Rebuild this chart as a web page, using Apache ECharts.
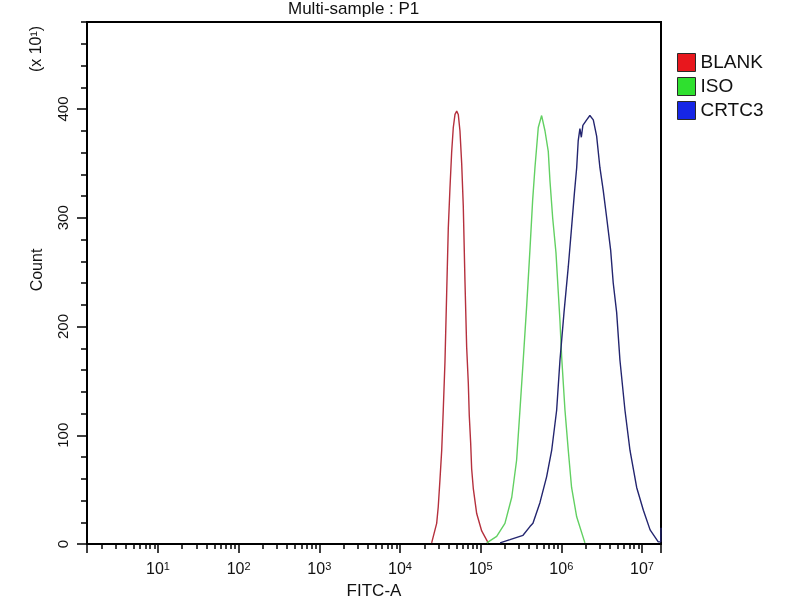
<!DOCTYPE html>
<html>
<head>
<meta charset="utf-8">
<script src="https://cdn.jsdelivr.net/npm/echarts@6.0.0/dist/echarts.min.js"></script>
<style>
html,body{margin:0;padding:0;background:#ffffff;}
#chart{width:800px;height:600px;}
</style>
</head>
<body>
<div id="chart"></div>
<script>
// ---------------- data ----------------
const seriesNames = ['BLANK', 'ISO', 'CRTC3'];

// FITC-A intensity (linear units) and count (x 10^1)
const blankFitc = [24700, 28500, 29800, 31300, 32900, 34400, 36100, 37900, 39700, 41700, 43700, 45800, 48100, 50500, 52800, 55400, 58200, 60900, 63900, 67100, 70300, 72300, 75200, 77400, 81100, 89300, 103000, 124000];
const blankCount = [1, 19, 34, 59, 86, 123, 167, 230, 290, 328, 360, 383, 395, 398, 395, 380, 350, 311, 242, 181, 148, 118, 93, 69, 51, 28, 12, 1];

const isoFitc = [119000, 158000, 200000, 243000, 279000, 307000, 337000, 372000, 408000, 441000, 471000, 518000, 570000, 627000, 689000, 723000, 781000, 858000, 916000, 962000, 1010000, 1110000, 1220000, 1340000, 1550000, 1960000];
const isoCount = [1, 7, 19, 43, 77, 123, 169, 219, 270, 316, 346, 383, 394, 380, 361, 334, 300, 268, 232, 205, 172, 123, 86, 52, 25, 1];

const crtc3Fitc = [174000, 231000, 335000, 408000, 445000, 543000, 658000, 759000, 875000, 962000, 1080000, 1220000, 1340000, 1450000, 1550000, 1620000, 1700000, 1770000, 1850000, 2060000, 2260000, 2490000, 2740000, 3010000, 3310000, 3650000, 4090000, 4400000, 4850000, 5330000, 6150000, 7100000, 8590000, 10400000, 12600000, 15900000, 17100000, 17200000];
const crtc3Count = [1, 4, 8, 16, 19, 38, 62, 86, 123, 169, 213, 255, 291, 322, 346, 371, 382, 374, 385, 390, 394, 390, 375, 346, 325, 300, 270, 240, 213, 169, 123, 86, 52, 31, 13, 2, 2, 15];

// axis ranges and tick labels
const xMinFitc = 1.32;
const xMaxFitc = 17200000;
const xTickExponents = [1, 2, 3, 4, 5, 6, 7];
const yMin = 0;
const yMax = 480;
const yTickLabels = [0, 100, 200, 300, 400];
const yMinorStep = 20;

// ---------------- styles ----------------
const lineColors = ['#b5303d', '#62d062', '#23256f'];
const legendColors = ['#e8171d', '#2fe02f', '#1626e6'];

function hasFont(name) {
  const c = document.createElement('canvas').getContext('2d');
  const t = 'mmmmmmmmmmlli1023456789WAK';
  c.font = '40px monospace';
  const a = c.measureText(t).width;
  c.font = '40px "' + name + '", monospace';
  const b = c.measureText(t).width;
  return Math.abs(a - b) > 0.5;
}
const narrow = hasFont('Liberation Sans Narrow');
const FAM = narrow ? '"Liberation Sans Narrow", "Liberation Sans", Arial, sans-serif' : '"Liberation Sans", Arial, sans-serif';
const fs = n => narrow ? n : Math.round(n * 0.85);
const TXT = '#111111';

// ---------------- derived (axis transform) ----------------
const log10 = Math.log10;
const xMinL = log10(xMinFitc);
const xMaxL = log10(xMaxFitc);
const majorX = [xMinL].concat(xTickExponents, [xMaxL]);
const minorX = [];
for (let n = 0; n <= 8; n++) {
  for (let k = 2; k <= 9; k++) {
    const v = n + log10(k);
    if (v > xMinL && v < xMaxL) minorX.push(v);
  }
}
const minorY = [];
for (let v = yMin; v <= yMax; v += yMinorStep) minorY.push(v);

function toPairs(fitc, count) {
  return fitc.map((v, i) => [log10(v), count[i]]);
}
const seriesData = [
  toPairs(blankFitc, blankCount),
  toPairs(isoFitc, isoCount),
  toPairs(crtc3Fitc, crtc3Count)
];

const GRID = { left: 87, top: 22, width: 574, height: 522 };

const chart = echarts.init(document.getElementById('chart'), null, { renderer: 'canvas' });

const option = {
  backgroundColor: '#ffffff',
  animation: false,
  textStyle: { fontFamily: FAM, color: TXT },
  grid: {
    left: GRID.left, top: GRID.top, width: GRID.width, height: GRID.height,
    show: true, borderColor: '#000', borderWidth: 2, backgroundColor: 'transparent',
    containLabel: false, outerBoundsMode: 'none'
  },
  legend: {
    orient: 'vertical',
    left: 672, top: 48,
    icon: 'rect',
    itemWidth: 18, itemHeight: 18, itemGap: 5,
    selectedMode: false,
    textStyle: { fontFamily: FAM, fontSize: fs(22), color: TXT },
    data: seriesNames.map((n, i) => ({
      name: n,
      itemStyle: { color: legendColors[i], borderColor: '#2a2a2a', borderWidth: 1 }
    }))
  },
  xAxis: [
    {
      type: 'value', min: xMinL, max: xMaxL, position: 'bottom',
      axisLine: { show: true, onZero: false, lineStyle: { color: '#000', width: 2 } },
      axisTick: { show: true, customValues: majorX, length: 9, lineStyle: { color: '#000', width: 1.5 } },
      axisLabel: {
        show: true, customValues: xTickExponents, margin: 17,
        formatter: v => '{b|10}{s|' + Math.round(v) + '}',
        rich: {
          b: { fontFamily: FAM, fontSize: fs(19), color: TXT, lineHeight: 18 },
          s: { fontFamily: FAM, fontSize: fs(13), color: TXT, lineHeight: 10, verticalAlign: 'top' }
        }
      },
      splitLine: { show: false },
      name: 'FITC-A', nameLocation: 'middle', nameGap: 37,
      nameTextStyle: { fontFamily: FAM, fontSize: fs(20), color: TXT }
    },
    {
      type: 'value', min: xMinL, max: xMaxL, position: 'top', offset: -GRID.height,
      axisLine: { show: false },
      axisTick: { show: true, inside: true, customValues: minorX, length: 5, lineStyle: { color: '#000', width: 1.5 } },
      axisLabel: { show: false },
      splitLine: { show: false }
    }
  ],
  yAxis: [
    {
      type: 'value', min: yMin, max: yMax, position: 'left',
      axisLine: { show: true, onZero: false, lineStyle: { color: '#000', width: 2 } },
      axisTick: { show: true, customValues: yTickLabels, length: 10, lineStyle: { color: '#000', width: 1.5 } },
      axisLabel: { show: true, customValues: yTickLabels, rotate: 90, margin: 16, fontFamily: FAM, fontSize: fs(18), color: TXT },
      splitLine: { show: false }
    },
    {
      type: 'value', min: yMin, max: yMax, position: 'right', offset: -GRID.width,
      axisLine: { show: false },
      axisTick: { show: true, inside: true, customValues: minorY, length: 6, lineStyle: { color: '#000', width: 1.5 } },
      axisLabel: { show: false },
      splitLine: { show: false }
    }
  ],
  graphic: [
    {
      type: 'text', left: 288, top: 1, silent: true,
      style: { text: 'Multi-sample : P1', fontFamily: FAM, fontSize: fs(20), fill: TXT }
    },
    {
      type: 'text', x: 37, y: 49, rotation: Math.PI / 2, silent: true,
      style: { text: '(x 10¹)', fontFamily: FAM, fontSize: fs(19), fill: TXT, align: 'center', verticalAlign: 'middle' }
    },
    {
      type: 'text', x: 38, y: 270, rotation: Math.PI / 2, silent: true,
      style: { text: 'Count', fontFamily: FAM, fontSize: fs(19), fill: TXT, align: 'center', verticalAlign: 'middle' }
    }
  ],
  series: seriesNames.map((n, i) => ({
    name: n,
    type: 'line',
    xAxisIndex: 0, yAxisIndex: 0,
    data: seriesData[i],
    showSymbol: false,
    symbol: 'none',
    smooth: false,
    clip: true,
    itemStyle: { color: lineColors[i] },
    lineStyle: { color: lineColors[i], width: 1.4 },
    z: 3 + i
  }))
};

chart.setOption(option);
</script>
</body>
</html>
